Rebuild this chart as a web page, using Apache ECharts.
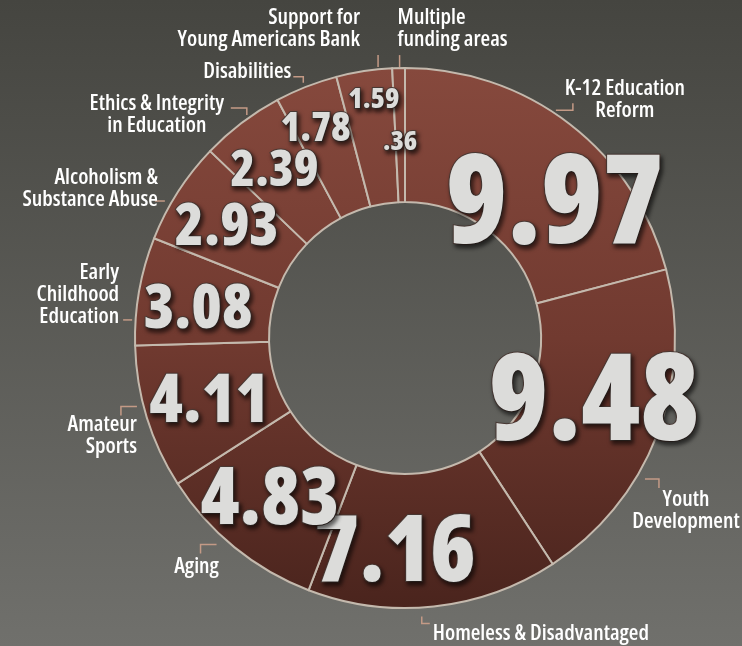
<!DOCTYPE html>
<html>
<head>
<meta charset="utf-8">
<script src="https://cdn.jsdelivr.net/npm/echarts@6/dist/echarts.min.js"></script>
<style>
  html, body { margin: 0; padding: 0; background: #55554f; }
  #chart { width: 742px; height: 646px; }
</style>
</head>
<body>
<div id="chart"></div>
<script>
// funding areas, clockwise from 12 o'clock
const categories = [
  'K-12 Education\nReform',
  'Youth\nDevelopment',
  'Homeless & Disadvantaged',
  'Aging',
  'Amateur\nSports',
  'Early\nChildhood\nEducation',
  'Alcoholism &\nSubstance Abuse',
  'Ethics & Integrity\nin Education',
  'Disabilities',
  'Support for\nYoung Americans Bank',
  'Multiple\nfunding areas'
]
const values = [9.97, 9.48, 7.16, 4.83, 4.11, 3.08, 2.93, 2.39, 1.78, 1.59, 0.36]
const valueLabels = ['9.97', '9.48', '7.16', '4.83', '4.11', '3.08', '2.93', '2.39', '1.78', '1.59', '.36']

// big numbers get bigger with the slice
const valueFontSizes = [124, 120, 92, 79, 68, 62, 59, 50, 40, 29, 27]

// nudges for the numbers, from the middle of the ring
const valueNudge = [[24, 33], [-3, -6], [-32, 12], [-5, 4], [1, 4], [-4, 8], [-5, 2], [-6, -2], [-14, -17], [0, -35], [0, 10]]

// name labels, placed from the outer edge of each slice: dx, dy, align, tick
const nameLayout = [
  [55, -24, 'center', [[-14, -14], [3, -14], [3, -21]]],
  [29, 76, 'center', [[-12, 44], [2, 44], [2, 53]]],
  [-1, 27, 'left', [[-12, 10], [-12, 17], [-4, 17]]],
  [-38, 19, 'center', [[-18, -3], [-34, -3], [-34, 6]]],
  [-10, 18, 'right', [[-10, -11], [-26, -11], [-26, -2]]],
  [-20, 4, 'right', [[-16, 29], [-7, 29], [-7, 29]]],
  [-20, -3, 'right', [[-23, 9], [-13, 9], [-13, 9]]],
  [-85, -8, 'center', [[-11, -15], [5, -15], [5, -8]]],
  [-59, -15, 'center', [[-13, -10], [-3, -10], [-3, -4]]],
  [-4, -42, 'right', [[14, -16], [14, -4], [14, -4]]],
  [-1, -39, 'left', [[1, -13], [1, -1], [1, -1]]]
]

const chart = echarts.init(document.getElementById('chart'))

const center = [405, 338]
const radius = [136, 270]

const ringData = values.map((v, i) => ({
  value: v,
  name: categories[i],
  label: { fontSize: valueFontSizes[i] }
}))

const nameData = values.map((v, i) => ({ value: v, name: categories[i] }))

const option = {
  backgroundColor: new echarts.graphic.LinearGradient(0, 0, 0, 1, [
    { offset: 0, color: '#454540' },
    { offset: 1, color: '#70706c' }
  ]),
  animation: false,
  series: [
    {
      type: 'pie',
      center: center,
      radius: radius,
      startAngle: 90,
      clockwise: true,
      avoidLabelOverlap: false,
      silent: true,
      labelLayout: (p) => ({
        hideOverlap: false,
        dx: valueNudge[p.dataIndex][0],
        dy: valueNudge[p.dataIndex][1]
      }),
      itemStyle: {
        color: new echarts.graphic.LinearGradient(0, 68, 0, 608, [
          { offset: 0, color: '#86493d' },
          { offset: 0.5, color: '#713a30' },
          { offset: 1, color: '#4a241d' }
        ], true),
        borderColor: '#c4b9ad',
        borderWidth: 2
      },
      label: {
        show: true,
        position: 'inside',
        formatter: (p) => valueLabels[p.dataIndex],
        fontFamily: "'Open Sans', sans-serif",
        fontWeight: '800 condensed',
        color: '#dcdcda',
        textBorderColor: '#4a3a35',
        textBorderWidth: 2,
        textShadowColor: 'rgba(0,0,0,0.6)',
        textShadowBlur: 4,
        textShadowOffsetX: 2,
        textShadowOffsetY: 3
      },
      labelLine: { show: false },
      data: ringData
    },
    {
      type: 'pie',
      center: center,
      radius: radius,
      startAngle: 90,
      clockwise: true,
      silent: true,
      avoidLabelOverlap: false,
      itemStyle: { color: 'rgba(0,0,0,0)', borderWidth: 0 },
      labelLayout: (p) => {
        const l = nameLayout[p.dataIndex]
        const a = p.labelLinePoints ? p.labelLinePoints[0] : [0, 0]
        return {
          hideOverlap: false,
          x: a[0] + l[0],
          y: a[1] + l[1],
          align: l[2],
          verticalAlign: 'middle',
          labelLinePoints: l[3].map((t) => [a[0] + t[0], a[1] + t[1]])
        }
      },
      label: {
        show: true,
        position: 'outside',
        overflow: 'none',
        color: '#ffffff',
        fontFamily: "'Open Sans', sans-serif",
        fontWeight: '600 condensed',
        fontSize: 22,
        lineHeight: 22
      },
      labelLine: {
        show: true,
        length: 8,
        length2: 10,
        lineStyle: { color: '#c49a86', width: 1.5 }
      },
      data: nameData
    }
  ]
}

chart.setOption(option)
</script>
</body>
</html>
